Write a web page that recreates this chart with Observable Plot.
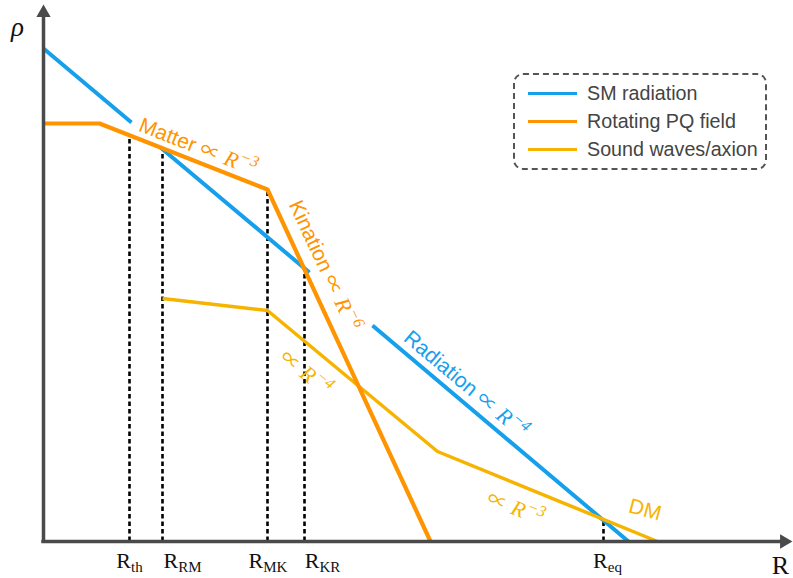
<!DOCTYPE html>
<html>
<head>
<meta charset="utf-8">
<script src="https://cdn.jsdelivr.net/npm/d3@7"></script>
<script src="https://cdn.jsdelivr.net/npm/@observablehq/plot@0.6"></script>
<style>
  html, body { margin: 0; padding: 0; background: #fff; }
  #wrap { position: relative; width: 793px; height: 578px; overflow: hidden; }
  #legend {
    position: absolute; left: 513px; top: 73px; width: 254px; height: 97px;
    box-sizing: border-box; border: 2px dashed #555; border-radius: 10px;
    padding-top: 4px; font-family: "Liberation Sans", Arial, sans-serif;
    font-size: 19.7px; color: #444;
  }
  .row { display: flex; align-items: center; height: 28px; white-space: nowrap; }
  .swatch { width: 49px; height: 3px; margin-left: 13px; margin-right: 10px; flex: none; }
</style>
</head>
<body>
<div id="wrap"><div id="legend"></div></div>
<script>
// ---- Data (schematic units: R from the vertical axis, rho from the horizontal axis) ----
const smR   = [0, 88, null, 117, 266, null, 329, 585];
const smRho = [493, 419, null, 394, 269, null, 216, 0];

const pqR   = [0, 56, 224, 387];
const pqRho = [418, 418, 352, 0];

const swR   = [119, 224, 394, 614];
const swRho = [243, 231, 90, 0];

const markerNames  = ["th", "RM", "MK", "KR", "eq"];
const markerR      = [86, 119, 224, 261, 560];
const markerTop    = [406, 393, 352, 271, 22];
const markerLabelR = [86, 139, 224.5, 279, 564];

const annTexts  = ["Matter ∝ R^−3", "Kination ∝ R^−6", "Radiation ∝ R^−4", "∝ R^−4", "∝ R^−3", "DM"];
const annR      = [94, 245, 359, 235, 442, 584];
const annRho    = [411, 337, 201.5, 182, 38, 29.5];
const annAngle  = [21.4, 65, 40, 39, 22, 15];
const annSeries = ["pq", "pq", "sm", "sw", "sw", "sw"];

const seriesNames  = ["SM radiation", "Rotating PQ field", "Sound waves/axion"];
const seriesKeys   = ["sm", "pq", "sw"];
const seriesColors = ["#16A0EC", "#FF9400", "#F6B400"];
const color = Object.fromEntries(seriesKeys.map((k, i) => [k, seriesColors[i]]));
const axisColor = "#4a4a4a";

// ---- Tables ----
const toRows = (xs, ys) => xs.map((r, i) => ({R: r, rho: ys[i]}));
const radiation = toRows(smR, smRho);
const pq = toRows(pqR, pqRho);
const sw = toRows(swR, swRho);
const markers = markerNames.map((n, i) => ({name: n, R: markerR[i], top: markerTop[i], labelR: markerLabelR[i]}));
const annotations = annTexts.map((t, i) => ({text: t, R: annR[i], rho: annRho[i], angle: annAngle[i], key: annSeries[i]}));

const xTip = 740.7, yTip = 528.7;

const sansFont = "'Liberation Sans', Arial, sans-serif";
const serifFont = "'Liberation Serif', 'Times New Roman', serif";

const chart = Plot.plot({
  width: 793, height: 578, margin: 0,
  x: {domain: [-43, 750], axis: null},
  y: {domain: [-37, 541], axis: null},
  style: {background: "transparent", overflow: "visible"},
  marks: [
    Plot.ruleX(markers, {x: "R", y1: 0, y2: "top", stroke: "#000", strokeWidth: 2.6, strokeDasharray: "4.5,3"}),
    Plot.line(radiation, {x: "R", y: "rho", stroke: color.sm, strokeWidth: 4, strokeLinecap: "butt"}),
    Plot.line(sw, {x: "R", y: "rho", stroke: color.sw, strokeWidth: 3.5, strokeLinejoin: "miter", strokeLinecap: "butt"}),
    Plot.line(pq, {x: "R", y: "rho", stroke: color.pq, strokeWidth: 4.2, strokeLinejoin: "miter", strokeLinecap: "butt"}),
    Plot.ruleX([0], {y1: -1.7, y2: yTip, stroke: axisColor, strokeWidth: 3.5}),
    Plot.ruleY([0], {x1: -1.7, x2: xTip, stroke: axisColor, strokeWidth: 3.5}),
    Plot.dot([{R: 0, rho: yTip, rot: 0}, {R: xTip, rho: 0, rot: 90}],
      {x: "R", y: "rho", symbol: "triangle", r: 5.3, fill: axisColor, stroke: "none", rotate: "rot"}),
    Plot.text(["ρ"], {x: -26, y: 506, text: d => d, fontSize: 27, fontStyle: "italic", fontFamily: serifFont, fill: "#111", lineAnchor: "bottom"}),
    Plot.text(["R"], {x: 737, y: -32, text: d => d, fontSize: 26, fontFamily: serifFont, fill: "#111", lineAnchor: "bottom"}),
    Plot.text(markers, {x: "labelR", y: -26, text: d => "R_" + d.name, fontSize: 22, fontFamily: serifFont, fill: "#111", lineAnchor: "bottom"}),
    Plot.text(annotations, {x: "R", y: "rho", text: "text", rotate: "angle", fill: d => color[d.key],
      fontSize: 21, fontFamily: sansFont, textAnchor: "start", lineAnchor: "bottom"})
  ]
});

// rich text: proportional sign, italic R with super/subscript
d3.select(chart).selectAll("text").each(function () {
  const t = d3.select(this);
  const m = this.textContent.match(/^(.*)R([\^_])(.+)$/);
  if (!m) return;
  const sup = m[2] === "^";
  t.text(null);
  if (m[1]) {
    m[1].split(/(∝)/).forEach(part => {
      if (!part) return;
      const p = t.append("tspan").text(part);
      if (part === "∝") p.attr("font-family", "'Noto Sans CJK SC', sans-serif").attr("font-size", "20px");
    });
  }
  const r = t.append("tspan").text("R");
  if (sup) r.attr("font-family", serifFont).attr("font-style", "italic").attr("font-size", "22px");
  const s = t.append("tspan").text(m[3]);
  if (sup) s.attr("font-family", serifFont).attr("font-style", "italic").attr("font-size", "16px").attr("dy", "-0.55em").attr("dx", "1");
  else s.attr("font-size", "15px").attr("dy", "0.33em");
});

document.getElementById("wrap").prepend(chart);
chart.style.position = "absolute";
chart.style.left = "0";
chart.style.top = "0";

// legend
const legend = d3.select("#legend");
seriesNames.forEach((name, i) => {
  const row = legend.append("div").attr("class", "row");
  row.append("span").attr("class", "swatch").style("background", seriesColors[i]);
  row.append("span").text(name);
});
</script>
</body>
</html>
